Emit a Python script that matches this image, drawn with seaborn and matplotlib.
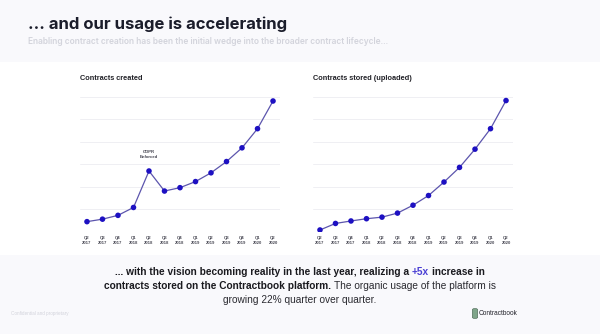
import matplotlib
matplotlib.use("Agg")
import matplotlib.pyplot as plt
import seaborn as sns
import pandas as pd
from matplotlib.patches import Rectangle, FancyBboxPatch

quarters = ["Q2", "Q3", "Q4", "Q1", "Q2", "Q3", "Q4", "Q1", "Q2", "Q3", "Q4", "Q1", "Q2"]
years = ["2017", "2017", "2017", "2018", "2018", "2018", "2018", "2019", "2019", "2019", "2019", "2020", "2020"]
created = [0.46, 0.57, 0.74, 1.09, 2.71, 1.82, 1.97, 2.24, 2.63, 3.13, 3.74, 4.59, 5.82]
stored = [0.09, 0.38, 0.49, 0.59, 0.66, 0.84, 1.19, 1.62, 2.22, 2.87, 3.68, 4.59, 5.84]
gridlines = [1, 2, 3, 4, 5, 6]

LINE = "#5c55ad"
DOT = "#1d10c2"
BG = "#f9f9fc"

sns.set_theme(style="white")
plt.rcParams["font.family"] = ["Liberation Sans", "DejaVu Sans"]

W, H = 600, 334
fig = plt.figure(figsize=(6, 3.34), dpi=100)
fig.patch.set_facecolor(BG)
band = Rectangle((0, (H - 255) / H), 1, (255 - 62) / H,
                 transform=fig.transFigure, facecolor="white",
                 edgecolor="none", zorder=-5)
fig.patches.append(band)

def fx(px):
    return px / W

def fy(py):
    return 1 - py / H

labels = [f"{q}\n{y}" for q, y in zip(quarters, years)]

def panel(left_px, values, title, annotate=False):
    bottom_px, top_px = 232, 92
    ax = fig.add_axes([fx(left_px), fy(bottom_px), 200 / W, (bottom_px - top_px) / H])
    ax.set_zorder(2)
    ax.set_facecolor("none")
    df = pd.DataFrame({"i": range(len(values)), "v": values})
    for g in gridlines:
        ax.axhline(g, color="#ececf1", lw=0.6, zorder=0)
    ax.axhline(0, color="#c9c9d1", lw=0.6, zorder=0)
    sns.lineplot(data=df, x="i", y="v", ax=ax, color=LINE, lw=0.9, zorder=2)
    sns.scatterplot(data=df, x="i", y="v", ax=ax, color=DOT, s=16,
                    edgecolor="none", zorder=3)
    ax.set_xlim(-0.45, len(values) - 1 + 0.45)
    ax.set_ylim(0, 6.22)
    ax.set_xticks(range(len(values)))
    ax.set_xticklabels(labels, fontsize=3.1, color="#4a4a55", linespacing=1.3,
                       fontweight="bold")
    ax.tick_params(axis="x", length=0, pad=3)
    ax.set_yticks([])
    ax.set_xlabel("")
    ax.set_ylabel("")
    for s in ax.spines.values():
        s.set_visible(False)
    fig.text(fx(left_px), fy(79), title, fontsize=5.3, fontweight="bold",
             color="#222228", va="center", ha="left")
    if annotate:
        i = values.index(max(values[:6]))
        ax.annotate("GDPR\nEnforced", xy=(i, values[i]), xytext=(0, 9),
                    textcoords="offset points", ha="center", va="bottom",
                    fontsize=3.1, color="#444450", linespacing=1.2,
                    fontweight="bold")
    return ax

panel(80, created, "Contracts created", annotate=True)
panel(313, stored, "Contracts stored (uploaded)")

# Header
fig.text(fx(28), fy(24), "... and our usage is accelerating", fontsize=12,
         fontweight="bold", color="#1b1d2b", va="center", ha="left",
         family=["Inter", "DejaVu Sans"])
fig.text(fx(28), fy(42), "Enabling contract creation has been the initial wedge into the broader contract lifecycle...",
         fontsize=6.0, fontweight="semibold", color="#d3d4dc", va="center", ha="left",
         family=["Inter", "DejaVu Sans"])

# Bottom statement with mixed styles
fig.canvas.draw()
renderer = fig.canvas.get_renderer()

def text_width(s, size, weight):
    t = fig.text(0, 0, s, fontsize=size, fontweight=weight)
    w = t.get_window_extent(renderer).width
    t.remove()
    return w

def rich_line(y_px, parts, size=7.3):
    space = text_width("a a", size, "bold") - text_width("aa", size, "bold")
    texts, widths = [], []
    for s, weight, color in parts:
        t = fig.text(0, fy(y_px), s, fontsize=size, fontweight=weight, color=color,
                     va="center", ha="left")
        texts.append(t)
        widths.append(t.get_window_extent(renderer).width)
    total = sum(widths) + space * (len(parts) - 1)
    x = W / 2 - total / 2
    for t, w in zip(texts, widths):
        t.set_x(x / W)
        x += w + space

DARK = "#1a1a1f"
rich_line(272, [("... with the vision becoming reality in the last year, realizing a", "bold", DARK),
                ("+5x", "bold", "#4a3fd4"),
                ("increase in", "bold", DARK)])
rich_line(286, [("contracts stored on the Contractbook platform.", "bold", DARK),
                ("The organic usage of the platform is", "normal", "#2a2a30")])
rich_line(300, [("growing 22% quarter over quarter.", "normal", "#2a2a30")])

# Footer
fig.text(fx(11), fy(313), "Confidential and proprietary", fontsize=3.3,
         color="#d2d3db", va="center", ha="left")
fig.patches.append(FancyBboxPatch((fx(473), fy(318)), 4 / W, 9 / H,
                                  boxstyle="round,pad=0.001,rounding_size=0.003",
                                  transform=fig.transFigure, facecolor="#7fa58a",
                                  edgecolor="#3b5a45", lw=0.4))
fig.text(fx(479), fy(313.5), "Contractbook", fontsize=4.7, color="#202028",
         va="center", ha="left")

fig.savefig("out.png", dpi=100, facecolor=fig.get_facecolor())
